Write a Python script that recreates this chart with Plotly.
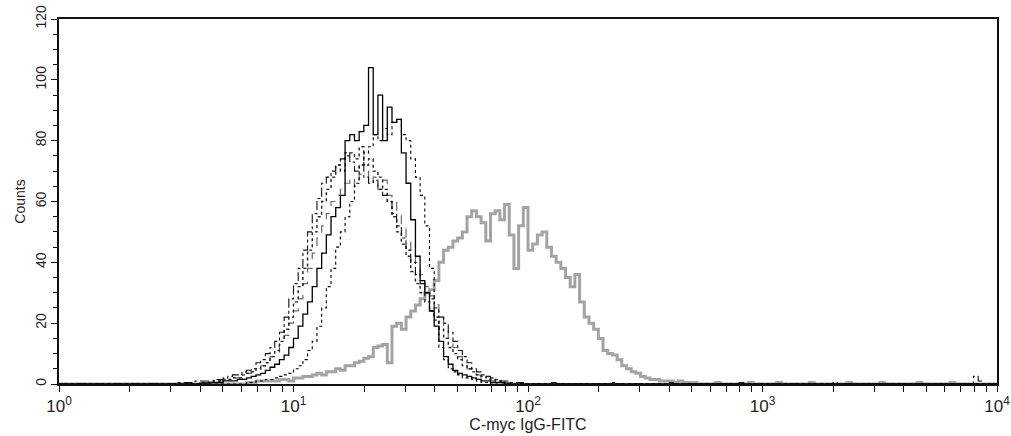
import numpy as np
import plotly.graph_objects as go

# channel grid (log10 of fluorescence), 0.02 decade per channel
CH_STEP = 0.02
N_CH = 201

# --- hand-read histogram counts (start channel in log10 units + counts) ---
solid_start = 0.60
solid_counts = [0.3, 0.3, 0.5, 0.5, 0.5, 1, 1, 1, 1.5, 1.5,
                2, 2.5, 3, 3.5, 4.5, 5.5, 6.5, 8, 9.5, 12,
                15, 19, 23, 27, 32, 38, 43, 49, 55, 58,
                62, 80, 82, 80, 83, 85, 104, 82, 95, 80,
                91, 86, 87, 76, 66, 54, 42, 34, 30, 24,
                19, 14, 9, 6.5, 4.5, 3.5, 3, 2.5, 2, 1.5,
                1, 1, 0.5, 0.5, 0.5]

dotted_start = 0.80
dotted_counts = [0.5, 0.5, 1, 1, 1.5, 1.5, 2, 2.5, 3, 3.5,
                 5, 6, 8, 11, 14, 19, 25, 32, 38, 45,
                 50, 55, 60, 66, 72, 76, 78, 82, 80, 84,
                 82, 86, 87, 82, 80, 74, 68, 62, 52, 38,
                 22, 12, 8, 5, 4, 3, 2, 2, 1.5, 1,
                 0.5, 0.5]

dashed_start = 0.50
dashed_counts = [0.5, 0.5, 0.5, 0.5, 1, 1, 1, 1, 1.5, 1.5,
                 2, 2.5, 3, 3, 4, 4.5, 5, 7, 8, 10,
                 12, 14, 17, 22, 28, 33, 38, 44, 50, 56,
                 61, 66, 68, 70, 72, 74, 76, 73, 70, 72,
                 68, 66, 67, 64, 62, 60, 56, 52, 48, 44,
                 40, 36, 33, 30, 28, 25, 22, 20, 17, 14,
                 11, 9, 7, 5, 4, 3, 2.5, 2, 1.5, 1,
                 1, 0.5, 0.5, 0.5]

greydash_start = 0.60
greydash_counts = [0.5, 0.5, 0.5, 1, 1, 1.5, 1.5, 2, 2, 3,
                   3.5, 4, 5, 6, 7, 9, 10, 13, 16, 20,
                   24, 28, 33, 38, 43, 48, 52, 56, 60, 62,
                   64, 66, 68, 65, 69, 70, 66, 68, 64, 67,
                   62, 60, 56, 52, 48, 44, 40, 36, 32, 29,
                   26, 22, 18, 15, 12, 9, 7, 5, 4, 3,
                   2, 1.5, 1, 1, 0.5, 0.5]

coarsedot_start = 0.60
coarsedot_counts = [0.5, 0.5, 0.5, 1, 1, 1.5, 1.5, 2, 2, 3,
                    3.5, 4, 5, 6, 7, 9, 11, 14, 18, 22,
                    27, 32, 38, 44, 50, 55, 60, 64, 68, 72,
                    70, 75, 76, 74, 78, 72, 74, 70, 68, 64,
                    60, 55, 50, 46, 42, 37, 33, 30, 27, 24,
                    21, 18, 15, 12, 10, 8, 6, 5, 4, 3,
                    2.5, 2, 1.5, 1, 1, 0.5]

cmyc_start = 0.80
cmyc_counts = [0.5, 0.5, 1, 1, 1, 1, 1, 1.5, 1.5, 1,
               2, 2, 2.5, 2.5, 3, 3.5, 3, 4, 4, 5,
               4.5, 6, 6, 7, 7.5, 8.5, 9, 12, 12.5, 13,
               7, 19, 20, 18, 22, 24, 26, 28, 30, 31,
               34, 40, 44, 45, 47, 48, 50, 55, 57, 55,
               53, 47, 56, 57, 54, 59, 49, 38, 52, 58,
               44, 46, 49, 50, 45, 42, 40, 38, 35, 32,
               36, 27, 22, 20, 18, 15, 11, 10, 9.5, 8,
               6, 5, 4, 3.5, 2.5, 2, 1.5, 1.5, 1, 1,
               1, 0.5, 1, 0.5, 0.5, 0.5]

# sparse low-level events far out on the axis
cmyc_tail_log = [2.80, 2.94, 3.06, 3.20, 3.36, 3.50, 3.66, 3.80]
cmyc_tail_counts = [0.5, 0.5, 0.5, 0.5, 0.5, 0.5, 0.5, 0.5]
dashed_tail_log = [2.10, 2.36, 2.60, 2.90, 3.30, 3.90, 3.92]
dashed_tail_counts = [0.5, 0.5, 0.5, 0.5, 0.5, 2.5, 1]

x_tick_vals = [1, 10, 100, 1000, 10000]
x_tick_text = ["10<sup>0</sup>", "10<sup>1</sup>", "10<sup>2</sup>",
               "10<sup>3</sup>", "10<sup>4</sup>"]
y_tick_vals = [0, 20, 40, 60, 80, 100, 120]


def full_hist(start, counts, tail_log=(), tail_counts=()):
    arr = np.zeros(N_CH)
    i0 = int(round(start / CH_STEP))
    arr[i0:i0 + len(counts)] = counts
    for lg, c in zip(tail_log, tail_counts):
        arr[int(round(lg / CH_STEP))] = c
    x = 10 ** (np.arange(N_CH) * CH_STEP)
    return x, arr


fig = go.Figure()

series = [
    (cmyc_start, cmyc_counts, cmyc_tail_log, cmyc_tail_counts,
     dict(color="#a3a3a3", width=3, dash="solid")),
    (greydash_start, greydash_counts, (), (),
     dict(color="#6a6a6a", width=1.2, dash="dash")),
    (coarsedot_start, coarsedot_counts, (), (),
     dict(color="#222222", width=1.4, dash="dot")),
    (dashed_start, dashed_counts, dashed_tail_log, dashed_tail_counts,
     dict(color="#111111", width=1.1, dash="dashdot")),
    (dotted_start, dotted_counts, (), (),
     dict(color="#000000", width=1.1, dash="dot")),
    (solid_start, solid_counts, (), (),
     dict(color="#000000", width=1.3, dash="solid")),
]

for start, counts, tl, tc, line in series:
    x, y = full_hist(start, counts, tl, tc)
    fig.add_trace(go.Scatter(x=x, y=y, mode="lines", line_shape="hv",
                             line=line, showlegend=False, hoverinfo="skip"))

# minor tick positions on the log axis (unlabelled)
minor_vals = [m * 10 ** d for d in range(4) for m in range(2, 10)]
all_vals = sorted(x_tick_vals + minor_vals)
all_text = [x_tick_text[x_tick_vals.index(v)] if v in x_tick_vals else ""
            for v in all_vals]

font = dict(family="Liberation Sans, Arial, sans-serif", size=14, color="#222")

fig.update_layout(
    width=1011, height=436,
    margin=dict(l=59, r=14, t=19, b=52),
    paper_bgcolor="white", plot_bgcolor="white",
    font=font,
    xaxis=dict(
        type="log", range=[0, 4], automargin=False,
        tickmode="array", tickvals=all_vals, ticktext=all_text,
        tickangle=0,
        ticks="outside", ticklen=6, tickwidth=1.3, tickcolor="#111",
        showline=True, linecolor="#111", linewidth=1.5, mirror=True,
        showgrid=False, zeroline=False,
        title=dict(text="C-myc IgG-FITC", font=dict(size=16), standoff=2),
        tickfont=dict(size=17),
    ),
    yaxis=dict(
        range=[0, 120], automargin=False,
        tickmode="array", tickvals=y_tick_vals,
        ticks="outside", ticklen=6, tickwidth=1.3, tickcolor="#111",
        minor=dict(dtick=5, ticks="outside", ticklen=4, tickcolor="#111",
                   tickwidth=1.3),
        tickangle=-90,
        showline=True, linecolor="#111", linewidth=1.5, mirror=True,
        showgrid=False, zeroline=False,
        title=dict(text="Counts", font=dict(size=14), standoff=4),
        tickfont=dict(size=14),
    ),
)

fig.write_html("out.html")
